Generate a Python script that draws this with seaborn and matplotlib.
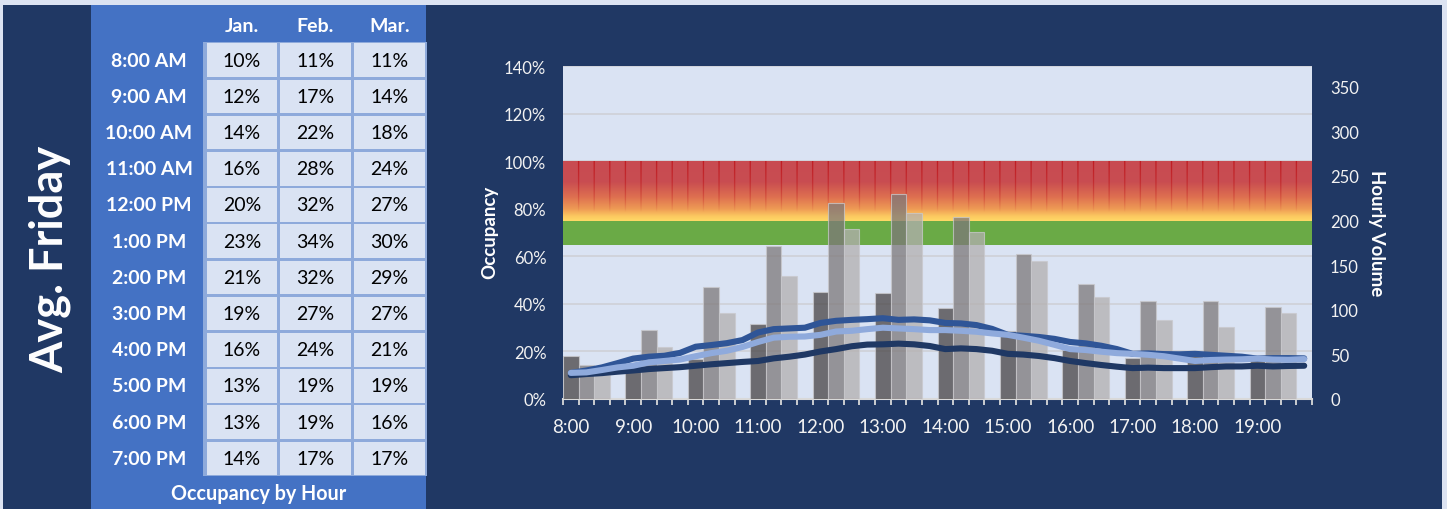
import numpy as np
import pandas as pd
import matplotlib
matplotlib.use("Agg")
import matplotlib.pyplot as plt
from matplotlib.patches import Rectangle
from matplotlib.ticker import FixedLocator, FuncFormatter
import seaborn as sns

# ---------------------------------------------------------------- data
months = ["Jan.", "Feb.", "Mar."]
hour_labels = ["8:00 AM", "9:00 AM", "10:00 AM", "11:00 AM", "12:00 PM", "1:00 PM",
               "2:00 PM", "3:00 PM", "4:00 PM", "5:00 PM", "6:00 PM", "7:00 PM"]
axis_hours = ["8:00", "9:00", "10:00", "11:00", "12:00", "13:00",
              "14:00", "15:00", "16:00", "17:00", "18:00", "19:00"]

# occupancy (%) per quarter hour, 8:00 -> 19:45; every 4th value is the hourly figure
occ_jan = [10, 10.5, 10.9, 11.5, 12, 12.6, 13.0, 13.4, 14, 14.6, 15.1, 15.6,
           16, 17.1, 17.8, 18.7, 20, 21.0, 22.2, 22.9, 23, 23.3, 23.0, 22.3,
           21, 21.3, 21.0, 20.3, 19, 18.7, 18.1, 17.2, 16, 15.1, 14.3, 13.6,
           13, 13.2, 13.0, 13.0, 13, 13.4, 13.7, 13.7, 14, 13.7, 13.9, 14.0]
occ_feb = [11, 12.0, 13.3, 15.1, 17, 17.8, 18.2, 19.4, 22, 22.7, 23.5, 24.8,
           28, 29.4, 29.7, 30.0, 32, 32.9, 33.3, 33.6, 34, 33.3, 33.5, 33.1,
           32, 31.8, 31.1, 29.5, 27, 26.6, 26.1, 25.3, 24, 23.4, 22.4, 21.0,
           19, 19.2, 18.9, 18.8, 19, 18.6, 18.2, 17.8, 17, 17.2, 17.2, 17.1]
occ_mar = [11, 11.2, 12.2, 13.3, 14, 15.4, 16.0, 16.6, 18, 19.3, 20.3, 21.9,
           24, 25.8, 26.2, 26.3, 27, 28.4, 28.7, 29.4, 30, 29.7, 29.4, 29.0,
           29, 28.7, 28.3, 27.6, 27, 25.8, 24.5, 22.8, 21, 20.6, 19.9, 19.3,
           19, 18.6, 18.0, 17.0, 16, 16.4, 16.6, 16.7, 17, 16.6, 16.5, 16.8]

# hourly volume per month
vol_jan = [48, 36, 45, 84, 120, 119, 102, 76, 55, 46, 51, 48]
vol_feb = [38, 77, 125, 171, 220, 229, 204, 162, 129, 110, 110, 103]
vol_mar = [27, 58, 96, 138, 190, 208, 187, 155, 114, 88, 81, 96]

target_low, target_high, capacity = 65, 75, 100

# ---------------------------------------------------------------- styling
NAVY = "#203864"
PANEL = "#4472c4"
CELL = "#dae3f3"
CELL_EDGE = "#8eaadb"
PLOT_BG = "#dae3f3"
GREEN = "#6aaa46"
TEXT = "#f2f2f2"
LINE_COLORS = ["#1f3864", "#2f5597", "#8faadc"]
BAR_COLORS = ["#474344", "#7d787a", "#b3afb0"]

plt.rcParams["font.family"] = ["Lato", "DejaVu Sans"]

W, H = 1447, 510
fig = plt.figure(figsize=(W / 100, H / 100), dpi=100, facecolor="#dce3f2")

# ---------------------------------------------------------------- side panel with table
bg = fig.add_axes([0, 0, 1, 1], zorder=0)
bg.set_xlim(0, W)
bg.set_ylim(H, 0)
bg.axis("off")
bg.add_patch(Rectangle((3, 6), 1439, 504, color=NAVY, lw=0))
bg.add_patch(Rectangle((91, 6), 335, 504, color=PANEL, lw=0))
bg.add_patch(Rectangle((203, 43), 224, 434, color=CELL_EDGE, lw=0))

bg.text(50, 259, "Avg. Friday", rotation=90, color="white", fontsize=32.5,
        fontweight="bold", ha="center", va="center")

col_x = [206.5, 280.2, 353.9]
cw, ch = 70.7, 33.6
row_y0, pitch = 44.3, 36.2
occ_series = [occ_jan, occ_feb, occ_mar]

for c, m in enumerate(months):
    bg.text(col_x[c] + cw / 2, 26, m, color="white", fontsize=14,
            fontweight="bold", ha="center", va="center")

for r, lab in enumerate(hour_labels):
    y = row_y0 + r * pitch
    bg.text(149, y + ch / 2, lab, color="white", fontsize=14,
            fontweight="bold", ha="center", va="center")
    for c, series in enumerate(occ_series):
        bg.add_patch(Rectangle((col_x[c], y), cw, ch, color=CELL, lw=0))
        bg.text(col_x[c] + cw / 2, y + ch / 2, f"{series[4 * r]:.0f}%",
                color="black", fontsize=14, ha="center", va="center")

bg.text(259, 494, "Occupancy by Hour", color="white", fontsize=14.2,
        fontweight="bold", ha="center", va="center")

bg.text(490, 232, "Occupancy", rotation=90, color="white", fontsize=13.5,
        fontweight="bold", ha="center", va="center")
bg.text(1377, 233, "Hourly Volume", rotation=270, color="white", fontsize=13.5,
        fontweight="bold", ha="center", va="center")

# ---------------------------------------------------------------- chart axes
L, R, B, T = 563, 1312, 400, 67.3
ax = fig.add_axes([L / W, 1 - B / H, (R - L) / W, (B - T) / H], zorder=2)
ax.set_facecolor(PLOT_BG)

# capacity band: red -> yellow gradient, split into quarter-hour columns
nrow, per = 200, 24
ncol = 48 * per
t = np.linspace(0, 1, nrow)
stops_t = [0, 0.35, 0.6, 0.8, 0.92, 1.0]
stops_c = np.array([[200, 75, 82], [201, 77, 81], [222, 112, 80],
                    [238, 155, 85], [252, 200, 96], [255, 217, 102]]) / 255
rgb = np.stack([np.interp(t, stops_t, stops_c[:, k]) for k in range(3)], axis=-1)
img = np.repeat(rgb[:, None, :], ncol, axis=1)
edge_rgb = np.array([190, 20, 25]) / 255
strength = (np.clip((0.85 - t) / 0.85, 0, 1) ** 0.8) * 0.85
edge_cols = np.zeros(ncol, bool)
for k in range(1, 48):
    edge_cols[k * per - 1:k * per + 1] = True
img[:, edge_cols, :] = (img[:, edge_cols, :] * (1 - strength[:, None, None])
                        + edge_rgb * strength[:, None, None])
ax.imshow(img, extent=(-0.5, 47.5, target_high, capacity), aspect="auto",
          zorder=1, interpolation="antialiased")
ax.axhspan(target_low, target_high, color=GREEN, lw=0, zorder=1)

ax.set_xlim(-0.5, 47.5)
ax.set_ylim(0, 140)
ax.yaxis.set_major_locator(FixedLocator(range(0, 141, 20)))
ax.yaxis.set_major_formatter(FuncFormatter(lambda v, _: f"{v:.0f}%"))
ax.grid(axis="y", color="#cfd2d9", lw=1.3)
ax.grid(axis="x", visible=False)
ax.set_axisbelow(True)
for s in ax.spines.values():
    s.set_visible(False)
ax.spines["bottom"].set_visible(True)
ax.spines["bottom"].set_color("#d9d9d9")
ax.spines["bottom"].set_linewidth(1.5)
ax.tick_params(axis="y", length=0, pad=12, labelcolor=TEXT, labelsize=12)

# hourly volume bars (right axis)
slots, vols, mlab = [], [], []
for m_i, (m, vals) in enumerate(zip(months, [vol_jan, vol_feb, vol_mar])):
    for h, v in enumerate(vals):
        slots.append(4 * h + m_i)
        vols.append(v)
        mlab.append(m)
df_vol = pd.DataFrame({"slot": slots, "volume": vols, "month": mlab})

axv = ax.twinx()
axv.set_zorder(3)
sns.barplot(data=df_vol, x="slot", y="volume", hue="month", order=list(range(48)),
            hue_order=months, palette=BAR_COLORS, dodge=False, width=1.0,
            saturation=1, alpha=0.75, edgecolor="#c9c9cd", linewidth=0.8,
            legend=False, ax=axv)
axv.set_ylim(0, 372.5)
axv.yaxis.set_major_locator(FixedLocator(range(0, 351, 50)))
axv.set_xlabel("")
axv.set_ylabel("")
for s in axv.spines.values():
    s.set_visible(False)
axv.tick_params(axis="y", length=0, pad=13, labelcolor=TEXT, labelsize=12)

# quarter-hour occupancy lines
q_slot, q_occ, q_m = [], [], []
for m, vals in zip(months, occ_series):
    for i, v in enumerate(vals):
        q_slot.append(i)
        q_occ.append(v)
        q_m.append(m)
df_occ = pd.DataFrame({"slot": q_slot, "occ": q_occ, "month": q_m})

axl = ax.twinx()
axl.set_zorder(4)
sns.lineplot(data=df_occ, x="slot", y="occ", hue="month", hue_order=months,
             palette=LINE_COLORS, linewidth=4.4, legend=False, ax=axl,
             solid_capstyle="round", solid_joinstyle="round")
axl.set_ylim(0, 140)
axl.axis("off")

# x axis: hour labels under every fourth slot, ticks on every slot boundary
ax.set_xlim(-0.5, 47.5)
ax.set_xticks(range(0, 48, 4))
ax.set_xticklabels(axis_hours)
ax.set_xticks(np.arange(-0.5, 48, 1), minor=True)
ax.tick_params(axis="x", which="major", length=0, pad=14, labelcolor=TEXT, labelsize=13.5)
ax.tick_params(axis="x", which="minor", length=4.5, width=1.3, color="#d9d9d9",
               direction="out")

fig.savefig("out.png", dpi=100, facecolor=fig.get_facecolor())
